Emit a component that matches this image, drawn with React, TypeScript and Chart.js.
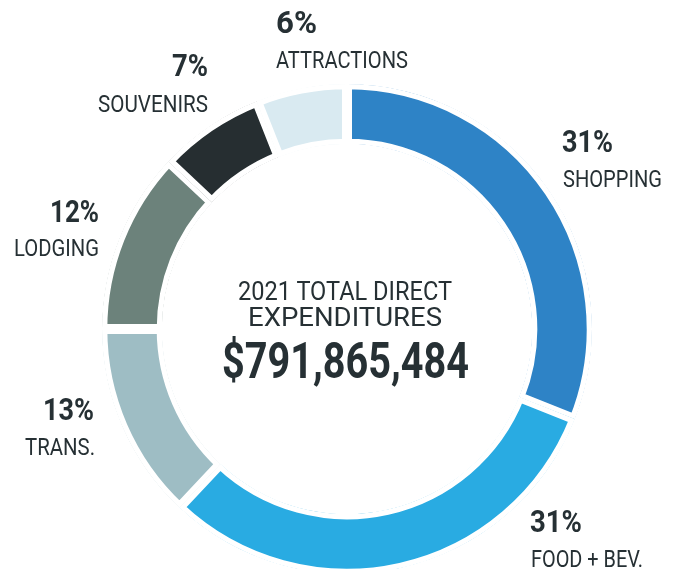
import React, { useEffect, useLayoutEffect, useRef } from "react";
import { Chart, registerables } from "chart.js";

Chart.register(...registerables);

// ---- data ----
const categories = ["SHOPPING", "FOOD + BEV.", "TRANS.", "LODGING", "SOUVENIRS", "ATTRACTIONS"];
const shares = [31, 31, 13, 12, 7, 6];
const shareLabels = ["31%", "31%", "13%", "12%", "7%", "6%"];
const colors = ["#2E83C6", "#29ABE2", "#9EBDC4", "#6C827B", "#262E31", "#D9EAF1"];
const centerTitle = ["2021 TOTAL DIRECT", "EXPENDITURES"];
const centerTotal = "$791,865,484";

// ---- layout (positions / sizes) ----
const W = 674;
const H = 569;
const TEXT = "#263034";
// [pctLeft, pctBaseline, pctWidth, labelLeft, labelBaseline, labelWidth]
const labelLayout = [
  [562, 152, 51, 563, 187, 99],
  [530, 532, 52, 531, 567, 112],
  [43, 420, 51, 25, 455, 70],
  [50, 222, 49, 14, 256, 85],
  [172, 76, 36, 98, 112, 110],
  [276, 33, 41, 276, 68, 132],
];
const centerLayout = [
  [238, 300, 214, 25, 400],
  [248, 326, 194, 25, 400],
  [222, 378, 247, 50, 700],
];

function FitText(props: {
  text: string;
  x: number;
  baseline: number;
  width: number;
  size: number;
  weight: number;
}) {
  const { text, x, baseline, width, size, weight } = props;
  const ref = useRef<HTMLSpanElement>(null);
  useLayoutEffect(() => {
    const el = ref.current;
    if (!el) return;
    const fit = () => {
      el.style.transform = "none";
      const w = el.getBoundingClientRect().width;
      if (w > 0) el.style.transform = `scaleX(${width / w})`;
    };
    fit();
    const fonts = (document as any).fonts;
    if (fonts && fonts.ready) fonts.ready.then(fit);
  }, [text, width, size, weight]);
  return (
    <span
      ref={ref}
      style={{
        position: "absolute",
        left: x,
        top: baseline - 0.842 * size,
        fontSize: size,
        lineHeight: `${size}px`,
        fontFamily: "Roboto, 'Noto Sans', sans-serif",
        fontWeight: weight,
        color: TEXT,
        whiteSpace: "nowrap",
        display: "inline-block",
        transformOrigin: "0 0",
      }}
    >
      {text}
    </span>
  );
}

export default function App() {
  const canvasRef = useRef<HTMLCanvasElement>(null);

  useEffect(() => {
    const canvas = canvasRef.current;
    if (!canvas) return;
    const chart = new Chart(canvas, {
      type: "doughnut",
      data: {
        labels: categories,
        datasets: [
          {
            data: shares,
            backgroundColor: colors,
            borderColor: "#ffffff",
            borderWidth: 5,
            borderAlign: "inner",
            borderJoinStyle: "miter",
          },
        ],
      },
      options: {
        responsive: false,
        animation: false,
        radius: 245,
        cutout: "75.5%",
        layout: { padding: { left: 20, top: 89, right: 0, bottom: 0 } },
        plugins: {
          legend: { display: false },
          tooltip: { enabled: false },
          title: { display: false },
        },
      } as any,
    });
    return () => chart.destroy();
  }, []);

  return (
    <div
      style={{
        position: "absolute",
        left: 0,
        top: 0,
        width: W,
        height: H,
        overflow: "hidden",
        background: "#ffffff",
      }}
    >
      <canvas ref={canvasRef} width={W} height={H} style={{ position: "absolute", left: 0, top: 0 }} />
      {categories.map((c, i) => {
        const [px, pb, pw, lx, lb, lw] = labelLayout[i];
        return (
          <React.Fragment key={c}>
            <FitText text={shareLabels[i]} x={px} baseline={pb} width={pw} size={31} weight={700} />
            <FitText text={c} x={lx} baseline={lb} width={lw} size={24} weight={400} />
          </React.Fragment>
        );
      })}
      {[...centerTitle, centerTotal].map((t, i) => {
        const [x, b, w, s, wt] = centerLayout[i];
        return <FitText key={t} text={t} x={x} baseline={b} width={w} size={s} weight={wt} />;
      })}
    </div>
  );
}
